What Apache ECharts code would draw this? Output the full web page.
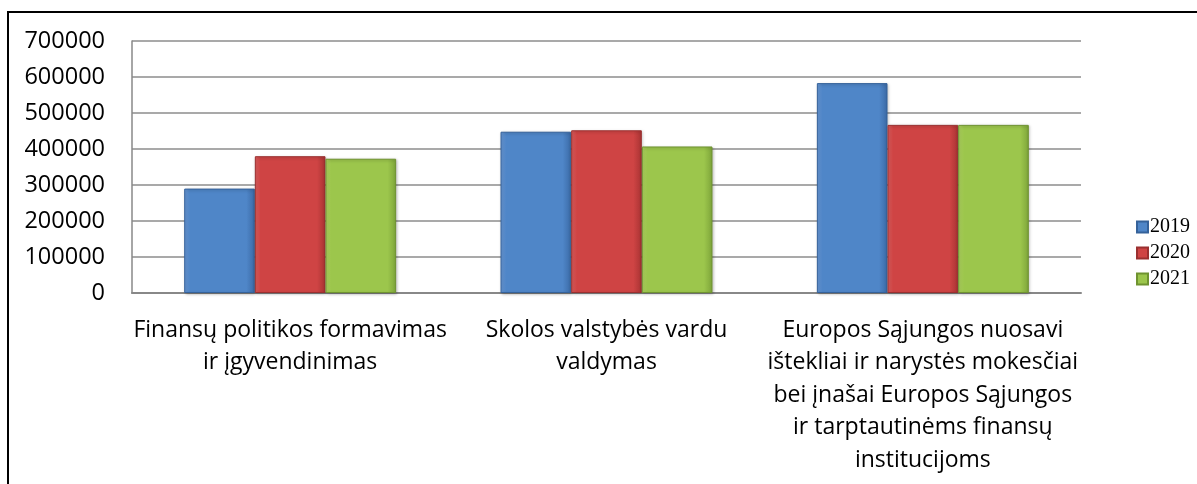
<!DOCTYPE html>
<html>
<head>
<meta charset="utf-8">
<script src="https://cdn.jsdelivr.net/npm/echarts@6/dist/echarts.min.js"></script>
<style>
  html, body { margin: 0; padding: 0; background: #fff; }
  #chart { width: 1197px; height: 484px; }
</style>
</head>
<body>
<div id="chart"></div>
<script>
// chart data
var categories = [
    'Finansų politikos formavimas\nir įgyvendinimas',
    'Skolos valstybės vardu\nvaldymas',
    'Europos Sąjungos nuosavi\ništekliai ir narystės mokesčiai\nbei įnašai Europos Sąjungos\nir tarptautinėms finansų\ninstitucijoms'
];
var seriesNames = ['2019', '2020', '2021'];
var values2019 = [290000, 448000, 583000];
var values2020 = [380000, 452000, 467000];
var values2021 = [373000, 407000, 467000];
var yTicks = [0, 100000, 200000, 300000, 400000, 500000, 600000, 700000];

// bevel-ish fills: lighter left edge, body, darker right edge
function bevel(light, body, dark) {
    return {
        type: 'linear', x: 0, y: 0, x2: 1, y2: 0,
        colorStops: [
            { offset: 0, color: light },
            { offset: 0.08, color: body },
            { offset: 0.88, color: body },
            { offset: 1, color: dark }
        ]
    };
}

var styles = [
    { fill: bevel('#6a9ad8', '#4f86c8', '#3b6aa6'), border: '#35629a' },
    { fill: bevel('#e06060', '#cf4444', '#a83333'), border: '#9a3030' },
    { fill: bevel('#b2d662', '#9cc64c', '#7ea53a'), border: '#6f9330' }
];

var allValues = [values2019, values2020, values2021];
var series = seriesNames.map(function (name, i) {
    return {
        name: name,
        type: 'bar',
        data: allValues[i],
        barGap: '0%',
        barCategoryGap: '33%',
        itemStyle: {
            color: styles[i].fill,
            borderColor: styles[i].border,
            borderWidth: 1,
            shadowColor: 'rgba(0,0,0,0.25)',
            shadowBlur: 3,
            shadowOffsetX: 1,
            shadowOffsetY: 1
        }
    };
});

var chart = echarts.init(document.getElementById('chart'), null, { renderer: 'canvas' });
chart.setOption({
    animation: false,
    color: ['#4f86c8', '#cf4444', '#9cc64c'],
    grid: { left: 132, right: 116, top: 41, bottom: 191, containLabel: false },
    legend: {
        orient: 'vertical',
        left: 1131,
        top: 212,
        icon: 'rect',
        itemWidth: 11,
        itemHeight: 11,
        itemGap: 6,
        textStyle: { fontFamily: 'Liberation Serif', fontSize: 20, color: '#000', padding: [0, 0, 0, -3] },
        data: seriesNames
    },
    xAxis: {
        type: 'category',
        data: categories,
        axisLine: { lineStyle: { color: '#888', width: 2 } },
        axisTick: { show: false },
        axisLabel: {
            interval: 0,
            margin: 21,
            fontFamily: 'Open Sans',
            fontSize: 23,
            lineHeight: 32.5,
            color: '#000',
            align: 'center'
        }
    },
    yAxis: {
        type: 'value',
        min: 0,
        max: 700000,
        interval: 100000,
        axisLine: { show: true, lineStyle: { color: '#888', width: 1.5 } },
        axisTick: { show: false },
        splitLine: { lineStyle: { color: '#8c8c8c', width: 1.5 } },
        axisLabel: {
            margin: 27,
            fontFamily: 'Open Sans',
            fontSize: 23.5,
            color: '#000',
            formatter: function (v) { return yTicks.indexOf(v) >= 0 ? String(v) : ''; }
        }
    },
    graphic: [{
        type: 'polyline',
        shape: { points: [[8, 484], [8, 12], [1197, 12]] },
        style: { stroke: '#000', lineWidth: 2, fill: null }
    }],
    series: series
});
</script>
</body>
</html>
